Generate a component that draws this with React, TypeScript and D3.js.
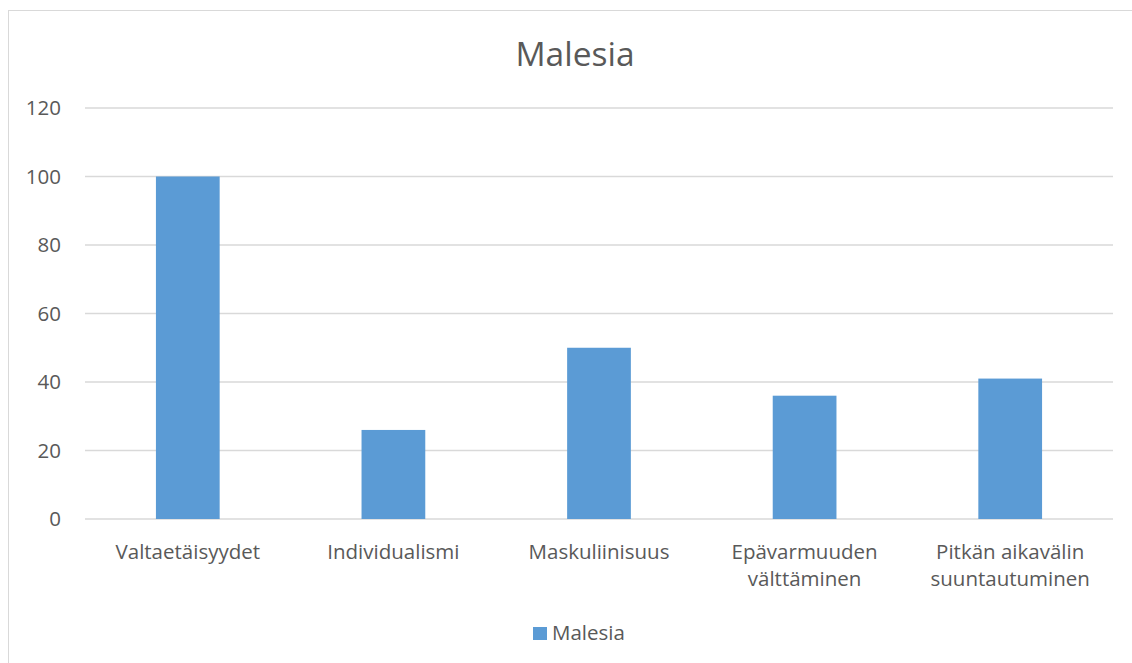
import React from "react";
import * as d3 from "d3";

const categories = [
  ["Valtaetäisyydet"],
  ["Individualismi"],
  ["Maskuliinisuus"],
  ["Epävarmuuden", "välttäminen"],
  ["Pitkän aikavälin", "suuntautuminen"],
];
const seriesName = "Malesia";
const values = [100, 26, 50, 36, 41];
const yTicks = [0, 20, 40, 60, 80, 100, 120];

const W = 1132;
const H = 663;
const font = "'Open Sans', 'Liberation Sans', sans-serif";
const textColor = "#595959";

export default function App() {
  const x = d3
    .scaleBand<number>()
    .domain(d3.range(categories.length))
    .range([85, 1113])
    .padding(0);
  const y = d3.scaleLinear().domain([0, 120]).range([519, 108]);
  const barW = x.bandwidth() * 0.31;

  return (
    <svg
      width={W}
      height={H}
      style={{ position: "absolute", left: 0, top: 0, display: "block" }}
      fontFamily={font}
    >
      <rect x={0} y={0} width={W} height={H} fill="#fff" />
      <rect x={8.5} y={10.5} width={W} height={H} fill="none" stroke="#d9d9d9" />
      <text x={575} y={66} textAnchor="middle" fontSize={33.5} fill={textColor}>
        Malesia
      </text>
      {yTicks.map((t) => (
        <g key={t}>
          <line x1={85} x2={1113} y1={y(t)} y2={y(t)} stroke="#d9d9d9" strokeWidth={1.5} />
          <text x={61} y={y(t) + 7} textAnchor="end" fontSize={20.5} fill={textColor}>
            {t}
          </text>
        </g>
      ))}
      {values.map((v, i) => (
        <rect
          key={i}
          x={x(i)! + x.bandwidth() / 2 - barW / 2}
          y={y(v)}
          width={barW}
          height={y(0) - y(v)}
          fill="#5b9bd5"
        />
      ))}
      {categories.map((lines, i) => (
        <text
          key={i}
          x={x(i)! + x.bandwidth() / 2}
          y={559}
          textAnchor="middle"
          fontSize={20.5}
          fill={textColor}
        >
          {lines.map((l, j) => (
            <tspan key={j} x={x(i)! + x.bandwidth() / 2} dy={j === 0 ? 0 : 27}>
              {l}
            </tspan>
          ))}
        </text>
      ))}
      <rect x={533} y={627} width={14} height={13} fill="#5b9bd5" />
      <text x={552} y={640} fontSize={20.5} fill={textColor}>
        {seriesName}
      </text>
    </svg>
  );
}
